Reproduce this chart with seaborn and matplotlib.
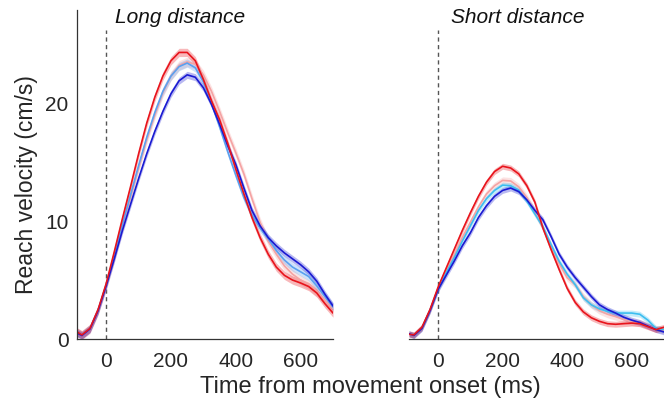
import numpy as np
import pandas as pd
import matplotlib
matplotlib.use("Agg")
import matplotlib.pyplot as plt
import seaborn as sns

# ---------------- data ----------------
time_ms = [-90, -75, -50, -25, 0, 25, 50, 75, 100, 125, 150, 175, 200, 225, 250,
           275, 300, 325, 350, 375, 400, 425, 450, 475, 500, 525, 550, 575, 600,
           625, 650, 675, 700]

conditions = ["red", "light red", "light blue", "blue"]

long_red = [0.6, 0.35, 0.9, 2.5, 4.7, 7.4, 10.2, 12.9, 15.7, 18.3, 20.5, 22.3, 23.6, 24.3, 24.3,
            23.6, 22.0, 20.2, 18.6, 16.6, 14.4, 12.3, 10.3, 8.6, 7.2, 6.1, 5.4, 5.0, 4.75,
            4.45, 3.9, 3.0, 2.2]
long_lightred = [0.55, 0.33, 0.85, 2.4, 4.5, 6.9, 9.5, 12.0, 14.5, 16.9, 19.0, 20.9, 22.3, 23.2, 23.5,
                 23.3, 22.4, 21.0, 19.3, 17.5, 15.8, 14.0, 11.9, 9.9, 8.3, 7.2, 6.2, 5.5, 5.0,
                 4.6, 4.0, 3.3, 2.6]
long_lightblue = [0.55, 0.32, 0.87, 2.45, 4.6, 7.1, 9.7, 12.2, 14.7, 17.1, 19.2, 21.0, 22.3, 23.1, 23.4,
                  23.0, 21.8, 20.0, 18.0, 15.9, 13.9, 12.0, 10.5, 9.4, 8.5, 7.5, 6.7, 6.1, 5.7,
                  5.3, 4.5, 3.6, 2.7]
long_blue = [0.5, 0.3, 0.85, 2.4, 4.5, 6.8, 9.2, 11.4, 13.6, 15.7, 17.6, 19.3, 20.8, 21.9, 22.4,
             22.2, 21.3, 19.9, 18.2, 16.4, 14.8, 12.8, 10.9, 9.6, 8.6, 7.9, 7.3, 6.8, 6.3,
             5.7, 4.9, 3.8, 2.8]

short_red = [0.4, 0.35, 1.0, 2.5, 4.4, 6.0, 7.6, 9.2, 10.7, 12.1, 13.3, 14.2, 14.65, 14.5, 14.0,
             13.0, 11.6, 9.4, 7.6, 5.9, 4.3, 3.1, 2.3, 1.8, 1.5, 1.3, 1.25, 1.3, 1.35,
             1.3, 1.05, 0.8, 1.0]
short_lightred = [0.45, 0.3, 0.95, 2.45, 4.3, 5.7, 7.1, 8.6, 9.9, 11.2, 12.3, 13.0, 13.45, 13.4, 12.9,
                  12.0, 10.8, 9.4, 7.9, 6.4, 5.2, 4.6, 3.6, 2.9, 2.4, 2.1, 1.9, 1.65, 1.45,
                  1.35, 1.1, 0.85, 0.75]
short_lightblue = [0.45, 0.3, 0.95, 2.45, 4.25, 5.6, 6.9, 8.3, 9.6, 10.9, 11.9, 12.6, 13.05, 13.0, 12.6,
                   11.7, 10.6, 9.5, 8.0, 6.6, 5.5, 4.6, 3.5, 2.9, 2.55, 2.35, 2.2, 2.2, 2.2,
                   2.1, 1.6, 0.9, 0.8]
short_blue = [0.45, 0.3, 0.9, 2.4, 4.2, 5.4, 6.6, 7.9, 9.0, 10.3, 11.3, 12.1, 12.6, 12.8, 12.5,
              11.8, 10.9, 10.1, 8.7, 7.2, 6.1, 5.2, 4.4, 3.6, 2.9, 2.5, 2.2, 1.85, 1.6,
              1.4, 1.1, 0.8, 0.6]

# standard error (band half-width) per condition
sem_long = [0.35, 0.4, 0.35, 0.3]
sem_short = [0.25, 0.3, 0.25, 0.25]

x_ticks = [0, 200, 400, 600]
y_ticks = [0, 10, 20]

# ---------------- styling ----------------
sns.set_theme(style="white")
plt.rcParams["font.family"] = ["Liberation Sans", "DejaVu Sans"]

colors_long = {"red": "#e8141c", "light red": "#f5a3a3", "light blue": "#5aa0f0", "blue": "#1a1ad2"}
colors_short = {"red": "#e8141c", "light red": "#f5a3a3", "light blue": "#3cbef0", "blue": "#1a1ad2"}
band_alpha = 0.3
text_col = "#262626"

fig = plt.figure(figsize=(6.64, 4.09), dpi=100)
ax_l = fig.add_axes([0.116, 0.1711, 0.3855, 0.8045])
ax_r = fig.add_axes([0.616, 0.1711, 0.384, 0.8045], sharey=ax_l)


def make_df(series_list, sems):
    rows = []
    for cond, vals, s in zip(conditions, series_list, sems):
        for t, v in zip(time_ms, vals):
            rows.append({"time": t, "velocity": v, "condition": cond, "sem": s})
    return pd.DataFrame(rows)


df_long = make_df([long_red, long_lightred, long_lightblue, long_blue], sem_long)
df_short = make_df([short_red, short_lightred, short_lightblue, short_blue], sem_short)

draw_order = ["light red", "light blue", "blue", "red"]

for ax, df, pal in [(ax_l, df_long, colors_long), (ax_r, df_short, colors_short)]:
    for cond in draw_order:
        d = df[df["condition"] == cond]
        ax.fill_between(d["time"], d["velocity"] - d["sem"], d["velocity"] + d["sem"],
                        color=pal[cond], alpha=band_alpha, linewidth=0, zorder=1)
    sns.lineplot(data=df, x="time", y="velocity", hue="condition",
                 hue_order=draw_order, palette=pal, ax=ax, legend=False,
                 linewidth=1.2, zorder=2, estimator=None,
                 solid_joinstyle="round", solid_capstyle="round")
    ax.axvline(0, ymin=0, ymax=0.94, color="#555555", linestyle=(0, (3, 2.5)),
               linewidth=1.0, zorder=0)
    ax.set_xlim(-90, 700)
    ax.set_ylim(0, 27.9)
    ax.set_xticks(x_ticks)
    ax.set_xlabel("")
    ax.set_ylabel("")
    ax.tick_params(axis="x", direction="in", length=4, width=0.8, colors="#444444",
                   labelcolor=text_col, labelsize=15, pad=9)
    for side in ["top", "right"]:
        ax.spines[side].set_visible(False)
    ax.spines["bottom"].set_color("#333333")
    ax.spines["bottom"].set_linewidth(0.9)

ax_l.set_yticks(y_ticks)
ax_l.tick_params(axis="y", direction="in", length=4, width=0.8, colors="#444444",
                 labelcolor=text_col, labelsize=15, pad=6)
ax_l.spines["left"].set_color("#333333")
ax_l.spines["left"].set_linewidth(0.9)

ax_r.spines["left"].set_visible(False)
ax_r.tick_params(axis="y", left=False, labelleft=False)

ax_l.text(0.148, 0.976, "Long distance", transform=ax_l.transAxes, style="italic",
          fontsize=15, color="#111111", va="center", ha="left")
ax_r.text(0.165, 0.976, "Short distance", transform=ax_r.transAxes, style="italic",
          fontsize=15, color="#111111", va="center", ha="left")

fig.text(0.558, 0.054, "Time from movement onset (ms)", ha="center", va="center",
         fontsize=17, color=text_col)
fig.text(0.04, 0.548, "Reach velocity (cm/s)", ha="center", va="center",
         rotation=90, fontsize=16.5, color=text_col)

fig.savefig("out.png", dpi=100)
